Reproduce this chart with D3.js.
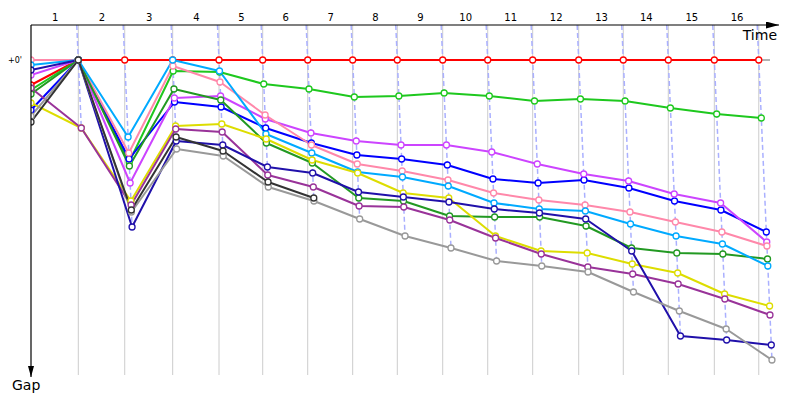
<!DOCTYPE html>
<html>
<head>
<meta charset="utf-8">
<script src="https://cdn.jsdelivr.net/npm/d3@7"></script>
<style>
  body { margin: 0; background: #fff; }
  svg { display: block; font-family: "DejaVu Sans", sans-serif; }
</style>
</head>
<body>
<script>
const WIDTH = 800;
const HEIGHT = 400;
const LEFT = 31;
const TOP = 25;

// leader lap times (s), one per lap
const LAPS = d3.range(1, 17);
const LEADER_LAP_TIMES = [107.5, 105.5, 109, 105.3, 99.3, 102.3, 102.2, 101.4, 103.2, 102.3, 102.2, 104.6, 101.3, 102.3, 104.6, 101.0];

// gap to leader (s) at start and after each lap
const GAP_RED       = [2.5, 0, 0, 0, 0, 0, 0, 0, 0, 0, 0, 0, 0, 0, 0, 0, 0];
const GAP_GREEN     = [3.0, 0, 10.2, 1.1, 1.2, 2.4, 2.9, 3.7, 3.6, 3.3, 3.6, 4.1, 3.9, 4.1, 4.8, 5.4, 5.8];
const GAP_BLUE      = [5.0, 0, 9.9, 4.2, 4.7, 6.8, 8.3, 9.5, 9.9, 10.5, 11.9, 12.3, 12.0, 12.8, 14.1, 15.0, 17.2];
const GAP_VIOLET    = [1.5, 0, 12.3, 3.8, 3.6, 5.9, 7.3, 8.1, 8.5, 8.5, 9.2, 10.4, 11.4, 12.1, 13.4, 14.3, 18.2];
const GAP_PINK      = [0, 0, 9.3, 0.6, 2.2, 5.5, 8.5, 10.4, 11.1, 12.0, 13.3, 14.0, 14.5, 15.2, 16.2, 17.2, 18.6];
const GAP_DARKGREEN = [3.4, 0, 10.6, 2.9, 4.0, 8.3, 10.3, 13.8, 14.1, 15.6, 15.7, 15.7, 16.6, 18.8, 19.3, 19.4, 19.9];
const GAP_SKY       = [0.5, 0, 7.7, 0, 1.1, 7.4, 9.3, 11.2, 11.7, 12.6, 14.3, 14.9, 15.1, 16.4, 17.6, 18.4, 20.6];
const GAP_YELLOW    = [4.3, 6.8, 14.1, 6.6, 6.4, 7.9, 10.0, 11.3, 13.3, 13.8, 17.6, 19.1, 19.3, 20.4, 21.3, 23.4, 24.6];
const GAP_PURPLE    = [2.8, 6.8, 14.5, 6.9, 7.2, 11.5, 12.7, 14.6, 14.7, 16.0, 17.8, 19.4, 20.7, 21.4, 22.4, 23.9, 25.5];
const GAP_NAVY      = [1.0, 0, 16.7, 8.1, 8.5, 10.7, 11.3, 13.2, 13.7, 14.2, 14.9, 15.3, 15.9, 19.1, 27.6, 28.0, 28.5];
const GAP_GRAY      = [5.6, 0, 15.2, 8.9, 9.6, 12.7, 14.1, 15.9, 17.6, 18.8, 20.1, 20.6, 21.2, 23.2, 25.1, 26.9, 30.0];
const GAP_DARKGRAY  = [6.2, 0, 15.0, 7.7, 9.1, 12.2, 13.8];

const SERIES = [GAP_RED, GAP_GREEN, GAP_BLUE, GAP_VIOLET, GAP_PINK, GAP_DARKGREEN,
                GAP_SKY, GAP_YELLOW, GAP_PURPLE, GAP_NAVY, GAP_GRAY, GAP_DARKGRAY];
const COLORS = ["#ff0000", "#1ec81e", "#0000ff", "#cc44ff", "#ff88aa", "#229922",
                "#00aaff", "#dddd00", "#993399", "#2010aa", "#999999", "#333333"];

const leaderTimes = [0, ...d3.cumsum(LEADER_LAP_TIMES)];

const xScale = d3.scaleLinear().domain([0, 1700]).range([LEFT, 779]);
const yScale = d3.scaleLinear().domain([-3.5, 31.5]).range([TOP, 375]);

const px = (lap, gap) => lap === 0 ? xScale(0) : xScale(leaderTimes[lap] + gap);

const svg = d3.select("body").append("svg")
  .attr("width", WIDTH).attr("height", HEIGHT);

const defs = svg.append("defs");
defs.append("clipPath").attr("id", "plot")
  .append("rect").attr("x", LEFT).attr("y", TOP).attr("width", 760).attr("height", 360);
defs.append("marker").attr("id", "arrowR")
  .attr("markerUnits", "userSpaceOnUse").attr("markerWidth", 14).attr("markerHeight", 8)
  .attr("refX", 13).attr("refY", 3.5).attr("orient", "auto")
  .append("path").attr("d", "M0,0 L13,3.5 L0,7 Z").attr("fill", "#000");
defs.append("marker").attr("id", "arrowD")
  .attr("markerUnits", "userSpaceOnUse").attr("markerWidth", 14).attr("markerHeight", 8)
  .attr("refX", 11).attr("refY", 3).attr("orient", "auto")
  .append("path").attr("d", "M0,0 L11,3 L0,6 Z").attr("fill", "#000");

// lap grid lines
svg.append("g").selectAll("line")
  .data(LAPS).enter().append("line")
  .attr("x1", d => xScale(leaderTimes[d]))
  .attr("x2", d => xScale(leaderTimes[d]))
  .attr("y1", TOP).attr("y2", 375)
  .attr("stroke", "#cccccc").attr("stroke-width", 1);

// zero gap line
svg.append("line")
  .attr("x1", LEFT).attr("x2", 770)
  .attr("y1", yScale(0)).attr("y2", yScale(0))
  .attr("stroke", "#666").attr("stroke-width", 1);

// dashed lap lines through each lap's points
const gTop = yScale.domain()[0];
svg.append("g").selectAll("line")
  .data(LAPS).enter().append("line")
  .attr("x1", d => px(d, gTop))
  .attr("y1", yScale(gTop))
  .attr("x2", d => px(d, d3.max(SERIES, s => s[d])))
  .attr("y2", d => yScale(d3.max(SERIES, s => s[d])))
  .attr("stroke", "#aab0ff").attr("stroke-width", 1.5)
  .attr("stroke-dasharray", "5,3");

const plot = svg.append("g").attr("clip-path", "url(#plot)");
const line = d3.line()
  .x((d, i) => px(i, d))
  .y(d => yScale(d));

SERIES.forEach((s, k) => {
  plot.append("path")
    .attr("d", line(s))
    .attr("fill", "none")
    .attr("stroke", COLORS[k])
    .attr("stroke-width", 2)
    .attr("stroke-linejoin", "round");
});

SERIES.forEach((s, k) => {
  plot.append("g").selectAll("circle")
    .data(s).enter().append("circle")
    .attr("cx", (d, i) => px(i, d))
    .attr("cy", d => yScale(d))
    .attr("r", 3)
    .attr("fill", "#fff")
    .attr("stroke", COLORS[k])
    .attr("stroke-width", 1.3);
});

// time axis with lap labels
const labelScale = d3.scaleLinear().domain([0, 16]).range([0, 16]);
const xAxis = d3.axisTop(xScale)
  .tickValues(LAPS.map(l => (leaderTimes[l - 1] + leaderTimes[l]) / 2))
  .tickFormat((d, i) => LAPS[i])
  .tickSize(0).tickPadding(4);
const xg = svg.append("g").attr("transform", "translate(0," + TOP + ")").call(xAxis);
xg.select(".domain").remove();
xg.selectAll("text").style("font-family", "DejaVu Sans").style("font-size", "10px").attr("fill", "#000");

svg.append("line")
  .attr("x1", LEFT).attr("x2", 779).attr("y1", TOP).attr("y2", TOP)
  .attr("stroke", "#000").attr("stroke-width", 1.2)
  .attr("marker-end", "url(#arrowR)");

// gap axis
const yAxis = d3.axisLeft(yScale).tickValues([0]).tickFormat(() => "+0'")
  .tickSize(0).tickPadding(9);
const yg = svg.append("g").attr("transform", "translate(" + LEFT + ",0)").call(yAxis);
yg.select(".domain").remove();
yg.selectAll("text").style("font-family", "DejaVu Sans").style("font-size", "8px").attr("fill", "#000");

svg.append("line")
  .attr("x1", LEFT).attr("x2", LEFT).attr("y1", TOP).attr("y2", 377)
  .attr("stroke", "#000").attr("stroke-width", 1.2)
  .attr("marker-end", "url(#arrowD)");

svg.append("text").attr("x", 777).attr("y", 40).attr("text-anchor", "end")
  .style("font-size", "14px").text("Time");
svg.append("text").attr("x", 12).attr("y", 390)
  .style("font-size", "14px").text("Gap");
</script>
</body>
</html>
